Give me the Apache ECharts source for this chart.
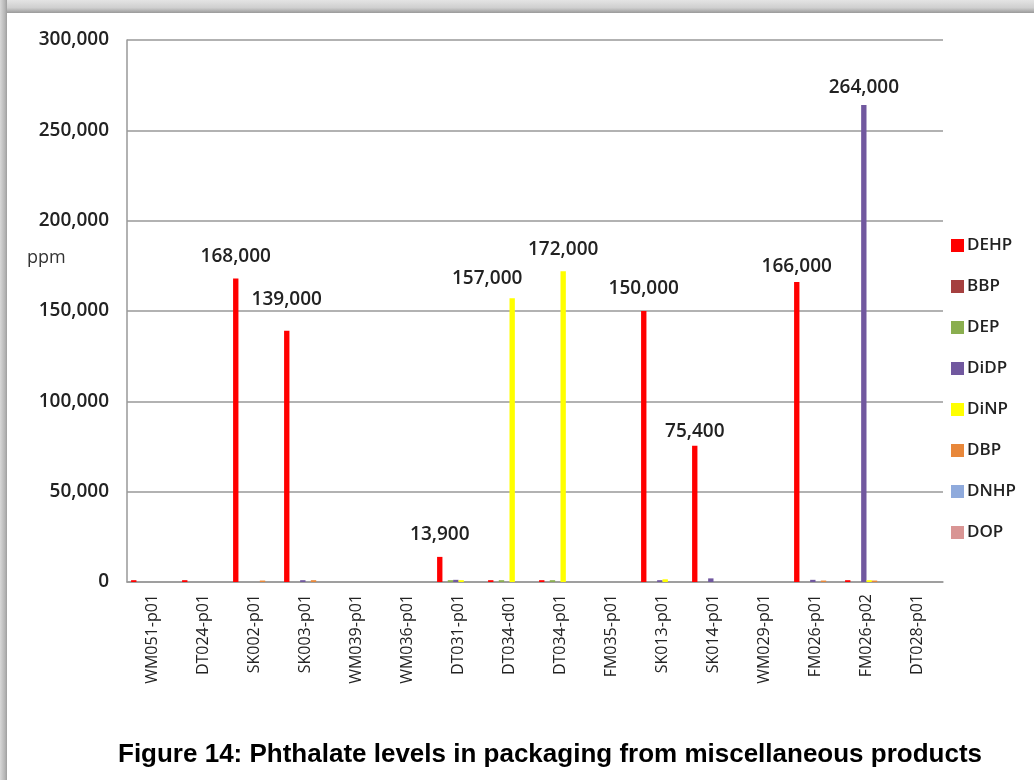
<!DOCTYPE html>
<html>
<head>
<meta charset="utf-8">
<script src="https://cdn.jsdelivr.net/npm/echarts@6/dist/echarts.min.js"></script>
<style>
html,body{margin:0;padding:0;background:#fff;}
#chart{width:1034px;height:780px;}
</style>
</head>
<body>
<div id="chart"></div>
<script>
const categories = ['WM051-p01','DT024-p01','SK002-p01','SK003-p01','WM039-p01','WM036-p01','DT031-p01','DT034-d01','DT034-p01','FM035-p01','SK013-p01','SK014-p01','WM029-p01','FM026-p01','FM026-p02','DT028-p01'];
const seriesNames = ['DEHP','BBP','DEP','DiDP','DiNP','DBP','DNHP','DOP'];
const DEHP = [1000,1000,168000,139000,0,0,13900,1000,1000,0,150000,75400,0,166000,1000,0];
const BBP  = [0,0,0,0,0,0,0,0,0,0,0,0,0,0,0,0];
const DEP  = [0,0,0,0,0,0,1000,1000,1000,0,0,0,0,0,0,0];
const DiDP = [0,0,0,1000,0,0,1200,0,0,0,1000,2000,0,1200,264000,0];
const DiNP = [0,0,0,0,0,0,1000,157000,172000,0,1500,0,0,0,1000,0];
const DBP  = [0,0,800,1000,0,0,0,0,0,0,0,0,0,800,800,0];
const DNHP = [0,0,0,0,0,0,0,0,0,0,0,0,0,0,0,0];
const DOP  = [0,0,0,0,0,0,0,0,0,0,0,0,0,0,0,0];
const yTicks = [0,50000,100000,150000,200000,250000,300000];
const labelledMin = 10000;

const values = [DEHP,BBP,DEP,DiDP,DiNP,DBP,DNHP,DOP];
const colors = ['#FF0000','#A5403F','#8AAE4F','#71589F','#FFFF00','#E8873A','#8FAADC','#D99594'];
// per-label placement tweaks (series index, category index) -> [dx, distance]
const labelTweaks = {
  '0,2':[0,12], '0,3':[0,22], '0,6':[0,13], '0,10':[0,13], '0,11':[0,5], '0,13':[0,6],
  '4,7':[-25,10], '4,8':[0,12], '3,14':[0,8]
};
const fmt = v => v.toLocaleString('en-US');

const series = seriesNames.map((name, si) => ({
  name: name,
  type: 'bar',
  barGap: '0%',
  barCategoryGap: '16%',
  itemStyle: {color: colors[si]},
  data: values[si].map((v, ci) => {
    if (v >= labelledMin) {
      const t = labelTweaks[si + ',' + ci] || [0, 12];
      return {value: v, label: {show: true, position: 'top', offset: [t[0], 0], distance: t[1],
        formatter: p => fmt(p.value), color: '#222', fontFamily: 'Open Sans', fontSize: 19, fontWeight: 600}};
    }
    return v;
  })
}));

const chart = echarts.init(document.getElementById('chart'), null, {renderer: 'canvas'});
chart.setOption({
  animation: false,
  backgroundColor: '#fff',
  grid: {left: 127, right: 91, top: 40, bottom: 198, containLabel: false},
  legend: {
    orient: 'vertical', left: 946, top: 232,
    itemWidth: 13, itemHeight: 13, itemGap: 24,
    icon: 'rect',
    textStyle: {fontFamily: 'Open Sans', fontSize: 17, fontWeight: 600, color: '#222', lineHeight: 15, padding: [0,0,0,-2]},
    data: seriesNames
  },
  xAxis: {
    type: 'category', data: categories,
    axisLine: {lineStyle: {color: '#999', width: 1.5}},
    axisTick: {show: false},
    axisLabel: {rotate: 90, margin: 12, fontFamily: 'Open Sans', fontSize: 16, color: '#222', interval: 0}
  },
  yAxis: {
    type: 'value', min: yTicks[0], max: yTicks[yTicks.length-1], interval: yTicks[1]-yTicks[0],
    axisLine: {show: true, lineStyle: {color: '#999', width: 1.5}},
    axisTick: {show: false},
    splitLine: {lineStyle: {color: '#999', width: 1.5}},
    axisLabel: {margin: 18, fontFamily: 'Open Sans', fontSize: 19, fontWeight: 600, color: '#222', formatter: v => fmt(v)}
  },
  graphic: [
    {type: 'rect', left: 0, top: 0, shape: {width: 1034, height: 13},
      style: {fill: new echarts.graphic.LinearGradient(0,0,0,1,[{offset:0,color:'#e4e4e4'},{offset:0.6,color:'#cfcfcf'},{offset:1,color:'#9a9a9a'}])}, silent: true},
    {type: 'rect', left: 0, top: 0, shape: {width: 7, height: 780},
      style: {fill: new echarts.graphic.LinearGradient(0,0,1,0,[{offset:0,color:'#d8d8d8'},{offset:0.7,color:'#b5b5b5'},{offset:1,color:'#9e9e9e'}])}, silent: true},
    {type: 'text', left: 27, top: 249, style: {text: 'ppm', fontFamily: 'Open Sans', fontSize: 18, fill: '#333'}},
    {type: 'text', left: 118, top: 742, style: {text: 'Figure 14: Phthalate levels in packaging from miscellaneous products',
      fontFamily: 'Liberation Sans', fontSize: 26, fontWeight: 'bold', fill: '#000'}}
  ],
  series: series
});
</script>
</body>
</html>
